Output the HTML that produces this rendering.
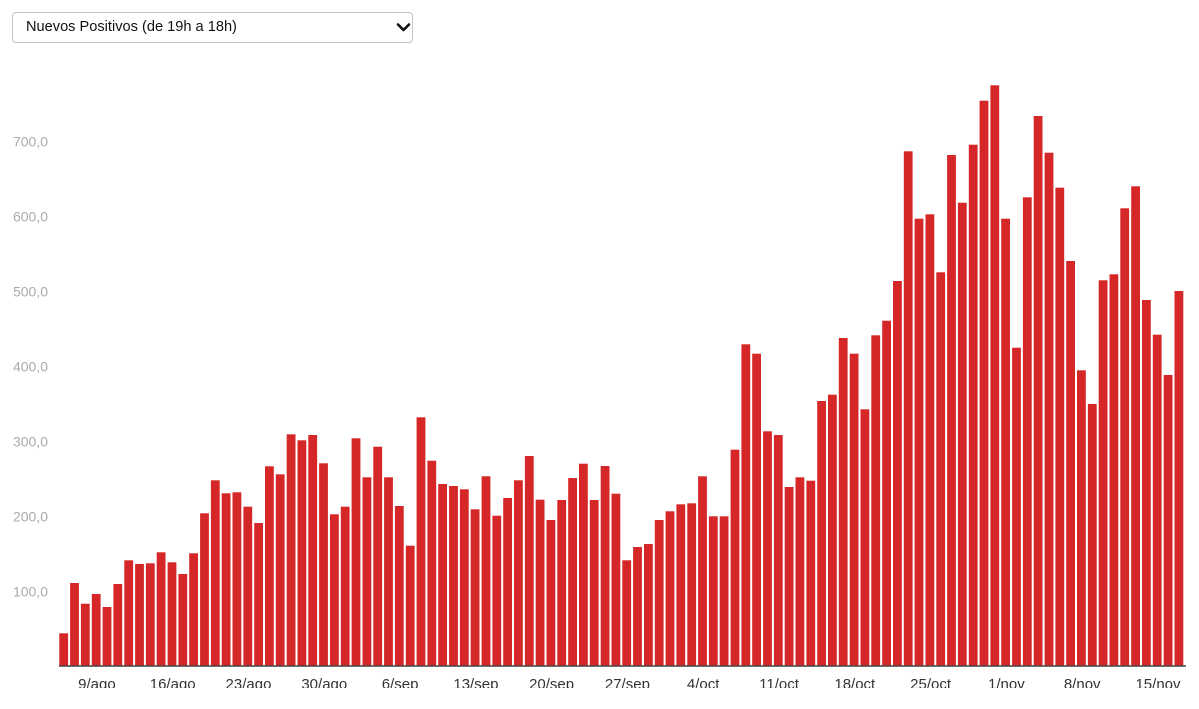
<!DOCTYPE html>
<html><head><meta charset="utf-8"><style>
html,body{margin:0;padding:0;background:#fff;}
body{width:1199px;height:709px;position:relative;overflow:hidden;font-family:"Liberation Sans",Arial,sans-serif;}
.sel{position:absolute;left:12px;top:12px;width:399px;height:29px;border:1px solid #c4c4c4;border-radius:4px;background:#fff;}
.sel span{position:absolute;left:13px;top:6px;font-size:14.6px;color:#111;line-height:17px;white-space:nowrap;}
svg.c{position:absolute;left:0;top:0;}
</style></head><body>
<div class="sel"><span>Nuevos Positivos (de 19h a 18h)</span></div>
<svg class="c" width="1199" height="688" viewBox="0 0 1199 688" xmlns="http://www.w3.org/2000/svg">
<polyline points="398,24.5 403.5,30 409,24.5" fill="none" stroke="#111" stroke-width="2.6" stroke-linecap="round" stroke-linejoin="round"/>
<g font-family="Liberation Sans, Arial, sans-serif" font-size="14" fill="#ababab" text-anchor="end">
<text x="48" y="596.7">100,0</text>
<text x="48" y="521.7">200,0</text>
<text x="48" y="446.7">300,0</text>
<text x="48" y="371.7">400,0</text>
<text x="48" y="296.7">500,0</text>
<text x="48" y="221.7">600,0</text>
<text x="48" y="146.7">700,0</text>
</g>
<g fill="#d62728">
<rect x="59.3" y="633.3" width="8.8" height="32.7"/>
<rect x="70.1" y="583" width="8.8" height="83"/>
<rect x="80.9" y="603.7" width="8.8" height="62.3"/>
<rect x="91.8" y="594" width="8.8" height="72"/>
<rect x="102.6" y="607" width="8.8" height="59"/>
<rect x="113.4" y="584" width="8.8" height="82"/>
<rect x="124.3" y="560.3" width="8.8" height="105.7"/>
<rect x="135.1" y="564" width="8.8" height="102"/>
<rect x="145.9" y="563.3" width="8.8" height="102.7"/>
<rect x="156.7" y="552.3" width="8.8" height="113.7"/>
<rect x="167.6" y="562.3" width="8.8" height="103.7"/>
<rect x="178.4" y="574" width="8.8" height="92"/>
<rect x="189.2" y="553.3" width="8.8" height="112.7"/>
<rect x="200.1" y="513.3" width="8.8" height="152.7"/>
<rect x="210.9" y="480.3" width="8.8" height="185.7"/>
<rect x="221.7" y="493.3" width="8.8" height="172.7"/>
<rect x="232.5" y="492.3" width="8.8" height="173.7"/>
<rect x="243.4" y="506.7" width="8.8" height="159.3"/>
<rect x="254.2" y="523" width="8.8" height="143"/>
<rect x="265.0" y="466.3" width="8.8" height="199.7"/>
<rect x="275.8" y="474.3" width="8.8" height="191.7"/>
<rect x="286.7" y="434.3" width="8.8" height="231.7"/>
<rect x="297.5" y="440.3" width="8.8" height="225.7"/>
<rect x="308.3" y="435" width="8.8" height="231"/>
<rect x="319.1" y="463.3" width="8.8" height="202.7"/>
<rect x="330.0" y="514.3" width="8.8" height="151.7"/>
<rect x="340.8" y="506.7" width="8.8" height="159.3"/>
<rect x="351.6" y="438.3" width="8.8" height="227.7"/>
<rect x="362.5" y="477.3" width="8.8" height="188.7"/>
<rect x="373.3" y="446.7" width="8.8" height="219.3"/>
<rect x="384.1" y="477.3" width="8.8" height="188.7"/>
<rect x="394.9" y="506" width="8.8" height="160"/>
<rect x="405.8" y="545.7" width="8.8" height="120.3"/>
<rect x="416.6" y="417.3" width="8.8" height="248.7"/>
<rect x="427.4" y="460.7" width="8.8" height="205.3"/>
<rect x="438.2" y="484" width="8.8" height="182"/>
<rect x="449.1" y="486" width="8.8" height="180"/>
<rect x="459.9" y="489.3" width="8.8" height="176.7"/>
<rect x="470.7" y="509.3" width="8.8" height="156.7"/>
<rect x="481.6" y="476.3" width="8.8" height="189.7"/>
<rect x="492.4" y="515.7" width="8.8" height="150.3"/>
<rect x="503.2" y="498" width="8.8" height="168"/>
<rect x="514.0" y="480.3" width="8.8" height="185.7"/>
<rect x="524.9" y="456" width="8.8" height="210"/>
<rect x="535.7" y="499.7" width="8.8" height="166.3"/>
<rect x="546.5" y="520" width="8.8" height="146"/>
<rect x="557.3" y="500" width="8.8" height="166"/>
<rect x="568.2" y="478" width="8.8" height="188"/>
<rect x="579.0" y="463.7" width="8.8" height="202.3"/>
<rect x="589.8" y="500" width="8.8" height="166"/>
<rect x="600.7" y="466" width="8.8" height="200"/>
<rect x="611.5" y="493.7" width="8.8" height="172.3"/>
<rect x="622.3" y="560.3" width="8.8" height="105.7"/>
<rect x="633.1" y="547" width="8.8" height="119"/>
<rect x="644.0" y="544" width="8.8" height="122"/>
<rect x="654.8" y="520" width="8.8" height="146"/>
<rect x="665.6" y="511.3" width="8.8" height="154.7"/>
<rect x="676.4" y="504.3" width="8.8" height="161.7"/>
<rect x="687.3" y="503.3" width="8.8" height="162.7"/>
<rect x="698.1" y="476.3" width="8.8" height="189.7"/>
<rect x="708.9" y="516.3" width="8.8" height="149.7"/>
<rect x="719.7" y="516.3" width="8.8" height="149.7"/>
<rect x="730.6" y="449.7" width="8.8" height="216.3"/>
<rect x="741.4" y="344.3" width="8.8" height="321.7"/>
<rect x="752.2" y="353.7" width="8.8" height="312.3"/>
<rect x="763.1" y="431.3" width="8.8" height="234.7"/>
<rect x="773.9" y="435" width="8.8" height="231"/>
<rect x="784.7" y="487" width="8.8" height="179"/>
<rect x="795.5" y="477.3" width="8.8" height="188.7"/>
<rect x="806.4" y="480.7" width="8.8" height="185.3"/>
<rect x="817.2" y="401" width="8.8" height="265"/>
<rect x="828.0" y="394.7" width="8.8" height="271.3"/>
<rect x="838.8" y="338" width="8.8" height="328"/>
<rect x="849.7" y="353.7" width="8.8" height="312.3"/>
<rect x="860.5" y="409.3" width="8.8" height="256.7"/>
<rect x="871.3" y="335.3" width="8.8" height="330.7"/>
<rect x="882.2" y="320.7" width="8.8" height="345.3"/>
<rect x="893.0" y="281" width="8.8" height="385"/>
<rect x="903.8" y="151.3" width="8.8" height="514.7"/>
<rect x="914.6" y="218.7" width="8.8" height="447.3"/>
<rect x="925.5" y="214.3" width="8.8" height="451.7"/>
<rect x="936.3" y="272.3" width="8.8" height="393.7"/>
<rect x="947.1" y="155" width="8.8" height="511"/>
<rect x="957.9" y="202.7" width="8.8" height="463.3"/>
<rect x="968.8" y="144.7" width="8.8" height="521.3"/>
<rect x="979.6" y="100.7" width="8.8" height="565.3"/>
<rect x="990.4" y="85.3" width="8.8" height="580.7"/>
<rect x="1001.2" y="218.7" width="8.8" height="447.3"/>
<rect x="1012.1" y="347.7" width="8.8" height="318.3"/>
<rect x="1022.9" y="197.3" width="8.8" height="468.7"/>
<rect x="1033.7" y="116" width="8.8" height="550"/>
<rect x="1044.6" y="152.7" width="8.8" height="513.3"/>
<rect x="1055.4" y="187.7" width="8.8" height="478.3"/>
<rect x="1066.2" y="261" width="8.8" height="405"/>
<rect x="1077.0" y="370.3" width="8.8" height="295.7"/>
<rect x="1087.9" y="404" width="8.8" height="262"/>
<rect x="1098.7" y="280.3" width="8.8" height="385.7"/>
<rect x="1109.5" y="274.3" width="8.8" height="391.7"/>
<rect x="1120.3" y="208.3" width="8.8" height="457.7"/>
<rect x="1131.2" y="186.3" width="8.8" height="479.7"/>
<rect x="1142.0" y="300" width="8.8" height="366"/>
<rect x="1152.8" y="334.7" width="8.8" height="331.3"/>
<rect x="1163.7" y="375" width="8.8" height="291"/>
<rect x="1174.5" y="291" width="8.8" height="375"/>
</g>
<line x1="59" y1="666" x2="1186" y2="666" stroke="#444" stroke-width="1.5"/>
<g font-family="Liberation Sans, Arial, sans-serif" font-size="15" fill="#333" text-anchor="middle">
<text x="96.9" y="689">9/ago</text>
<text x="172.7" y="689">16/ago</text>
<text x="248.5" y="689">23/ago</text>
<text x="324.3" y="689">30/ago</text>
<text x="400.1" y="689">6/sep</text>
<text x="475.9" y="689">13/sep</text>
<text x="551.6" y="689">20/sep</text>
<text x="627.4" y="689">27/sep</text>
<text x="703.2" y="689">4/oct</text>
<text x="779.0" y="689">11/oct</text>
<text x="854.8" y="689">18/oct</text>
<text x="930.6" y="689">25/oct</text>
<text x="1006.4" y="689">1/nov</text>
<text x="1082.2" y="689">8/nov</text>
<text x="1158.0" y="689">15/nov</text>
</g>
</svg>
</body></html>
